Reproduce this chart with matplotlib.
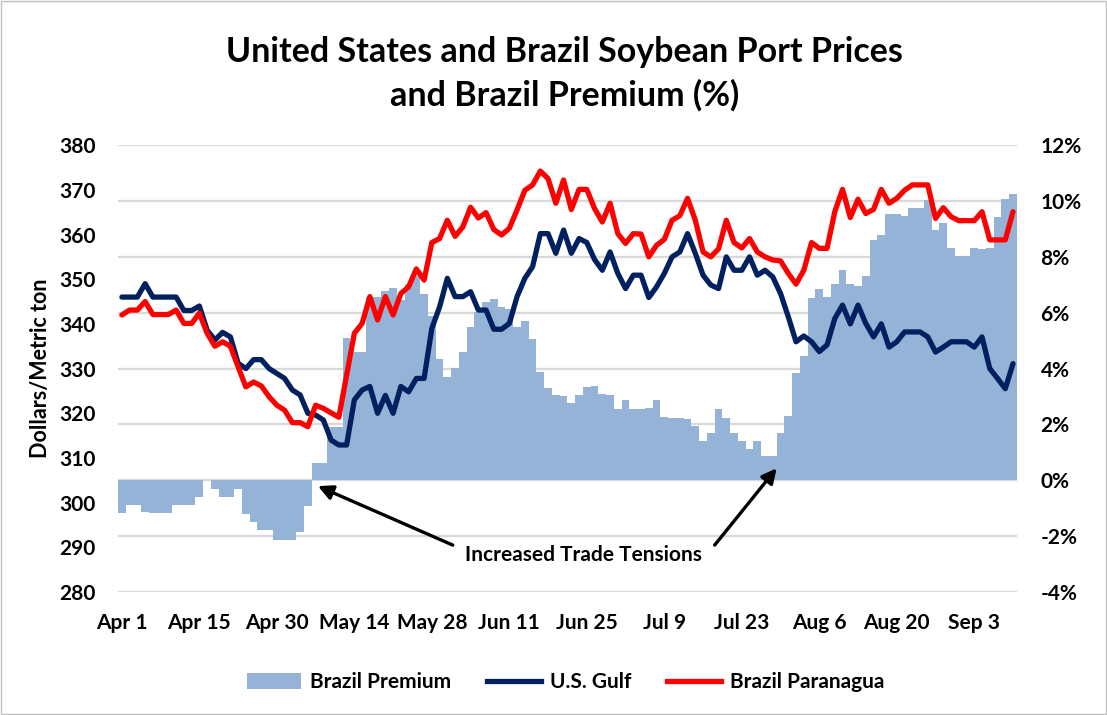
"""
US Gulf vs Brazil Paranagua soybean port prices, with the Brazil premium (%) as bars on the right axis.
"""
import matplotlib
matplotlib.use("Agg")
import matplotlib.pyplot as plt
from matplotlib.patches import Patch, Rectangle
from matplotlib.lines import Line2D
from matplotlib.ticker import FuncFormatter, MultipleLocator

plt.rcParams["font.family"] = ["Lato", "DejaVu Sans"]
plt.rcParams["font.weight"] = "bold"

# ----- data (one value per trading day) -----
tick_labels = ["Apr 1", "Apr 15", "Apr 30", "May 14", "May 28", "Jun 11",
               "Jun 25", "Jul 9", "Jul 23", "Aug 6", "Aug 20", "Sep 3"]
tick_step = 10

us_gulf = [346, 346, 346, 349, 346, 346, 346, 346, 343, 343, 344,
           338.6, 336.4, 338.1, 337.1, 331.2, 330, 332, 332, 330, 328.9,
           327.8, 325.2, 324.1, 320, 319.6, 318.5, 314, 312.9, 312.9, 323,
           325.2, 326, 320, 324, 320, 326, 324.8, 327.8, 327.8, 339,
           343.8, 350.2, 346.1, 346.1, 347.2, 343.1, 343.1, 338.8, 338.8, 340.1,
           346.1, 350.2, 352.8, 360.2, 360.2, 355.8, 361, 355.8, 359.1, 358.2,
           354.4, 352, 356.1, 351.3, 347.9, 350.9, 350.9, 345.9, 348.3, 351.3,
           355, 356.1, 360.2, 355.8, 350.9, 348.7, 347.9, 355, 352, 352,
           355, 350.9, 352, 350.5, 346.8, 341.6, 336, 337.3, 336, 333.8,
           335.3, 341.2, 344.2, 340, 344.2, 340.1, 337.1, 340, 334.8, 336,
           338.2, 338.2, 338.2, 337.1, 333.7, 334.8, 336, 336, 336, 334.8,
           337.1, 330, 327.8, 325.5, 331.1]

brazil_paranagua = [342, 343.1, 343.1, 345, 342.1, 342.1, 342.1, 343.1, 340.1, 340.1, 342.4,
                    337.9, 335, 336, 335, 330.4, 325.9, 327, 326.1, 323.7, 321.8,
                    320.7, 317.9, 317.9, 317, 321.8, 321.1, 320.1, 319.1, 328.5, 337.9,
                    340.1, 346.1, 340.9, 346.1, 342, 346.8, 348.3, 352.3, 349.8, 358.2,
                    359.1, 363.2, 359.6, 361.7, 366.1, 363.7, 364.9, 361.1, 359.9, 361.4,
                    365.5, 369.9, 371.1, 374.2, 372.5, 367, 372.2, 365.6, 370.1, 370.1,
                    365.8, 362.8, 367, 360.2, 358, 360.2, 360.1, 355, 357.6, 358.9,
                    363.2, 364.2, 368.1, 363.2, 356.1, 355, 356.8, 363.2, 358.2, 357,
                    359.1, 356.1, 355, 354.3, 354.1, 351.3, 348.9, 352, 358.2, 356.9,
                    356.9, 365.1, 370.1, 363.8, 367.9, 364.7, 365.6, 370.1, 367, 368.1,
                    369.9, 371.1, 371.1, 371.1, 363.6, 366, 364, 363.1, 363.1, 363.1,
                    365.1, 358.8, 358.8, 358.8, 365.1]

brazil_premium = [-1.17, -0.9, -0.9, -1.13, -1.17, -1.17, -1.17, -0.9, -0.9, -0.9, -0.6,
                  0, -0.3, -0.6, -0.6, -0.3, -1.19, -1.49, -1.79, -1.79, -2.12,
                  -2.12, -2.15, -1.85, -0.93, 0.62, 0.62, 1.9, 1.9, 5.1, 4.6,
                  4.6, 6.56, 6.56, 6.78, 6.89, 6.44, 7.04, 7.3, 6.68, 5.9,
                  4.33, 3.7, 4.02, 4.59, 5.49, 6.03, 6.38, 6.48, 6.2, 6.15,
                  5.49, 5.69, 5.07, 3.88, 3.3, 3.07, 3.02, 2.78, 3.04, 3.34,
                  3.38, 3.1, 3.07, 2.57, 2.86, 2.57, 2.57, 2.59, 2.86, 2.27,
                  2.24, 2.24, 2.21, 1.93, 1.41, 1.7, 2.57, 2.24, 1.7, 1.41,
                  1.12, 1.41, 0.86, 0.86, 1.7, 2.29, 3.85, 4.44, 6.53, 6.86,
                  6.55, 7.02, 7.54, 7.04, 6.97, 7.31, 8.59, 8.8, 9.52, 9.52,
                  9.46, 9.75, 9.75, 10.05, 8.97, 9.22, 8.32, 8.03, 8.03, 8.33,
                  8.29, 8.3, 9.43, 10.08, 10.26]

BAR_C = "#95B3D7"; GULF_C = "#002060"; BRA_C = "#FF0000"; GRID_C = "#D9D9D9"
FS = 15; LW = 3.8
x = list(range(len(us_gulf)))

fig = plt.figure(figsize=(11.07, 7.15), dpi=100)
ax = fig.add_axes([0.1066, 0.172, 0.812, 0.625])
ax2 = ax.twinx()
ax.set_zorder(ax2.get_zorder() + 1); ax.patch.set_visible(False)

# ----- premium bars + grid on the right axis (drawn underneath) -----
ax2.bar(x, brazil_premium, width=1.0, color=BAR_C, linewidth=0, zorder=2)
ax2.set_ylim(-4, 12); ax2.yaxis.set_major_locator(MultipleLocator(2))
ax2.yaxis.set_major_formatter(FuncFormatter(lambda v, p: f"{v:.0f}%".replace("\u2212", "-")))
ax2.grid(axis="y", color=GRID_C, lw=1.6, zorder=0); ax2.set_axisbelow(True)

# ----- price lines on the left axis -----
ax.plot(x, us_gulf, color=GULF_C, lw=LW, solid_joinstyle="round", solid_capstyle="round", zorder=3)
ax.plot(x, brazil_paranagua, color=BRA_C, lw=LW, solid_joinstyle="round", solid_capstyle="round", zorder=4)
ax.set_ylim(280, 380); ax.yaxis.set_major_locator(MultipleLocator(10))
ax.set_xlim(-0.5, len(x) - 0.5)
ax.set_xticks(x[::tick_step]); ax.set_xticklabels(tick_labels)
ax.set_ylabel("Dollars/Metric ton", fontsize=15.5, fontweight="bold", labelpad=6)

for a in (ax, ax2):
    for sp in a.spines.values(): sp.set_visible(False)
    a.tick_params(length=0, labelsize=FS)
ax.tick_params(axis="y", pad=16); ax.tick_params(axis="x", pad=15)
ax2.tick_params(axis="y", pad=17)

# ----- annotation -----
ap = dict(arrowstyle="-|>", color="black", lw=2.4, mutation_scale=22, shrinkA=0, shrinkB=0)
ax.annotate("", xy=(25.3, 303.7), xytext=(42.7, 290.5), arrowprops=ap)
ax.annotate("", xy=(84.5, 307.7), xytext=(76.5, 290.5), arrowprops=ap)
ax.text(59.6, 288.3, "Increased Trade Tensions", ha="center", va="center", fontsize=FS, fontweight="bold")

# ----- title, legend, border -----
fig.text(0.51, 0.897, "United States and Brazil Soybean Port Prices\nand Brazil Premium (%)",
         ha="center", va="center", fontsize=24.5, fontweight="bold", linespacing=1.4)
handles = [Patch(facecolor=BAR_C, edgecolor="none"),
           Line2D([], [], color=GULF_C, lw=LW), Line2D([], [], color=BRA_C, lw=LW)]
fig.legend(handles, ["Brazil Premium", "U.S. Gulf", "Brazil Paranagua"], loc="center",
           bbox_to_anchor=(0.511, 0.046), ncol=3, frameon=False, fontsize=FS,
           handlelength=2.6, handleheight=0.8, handletextpad=0.45, columnspacing=1.7)
fig.patches.append(Rectangle((0.001, 0.001), 0.998, 0.998, transform=fig.transFigure,
                             fill=False, edgecolor="#BFBFBF", lw=1))
fig.savefig("out.png", dpi=100)
